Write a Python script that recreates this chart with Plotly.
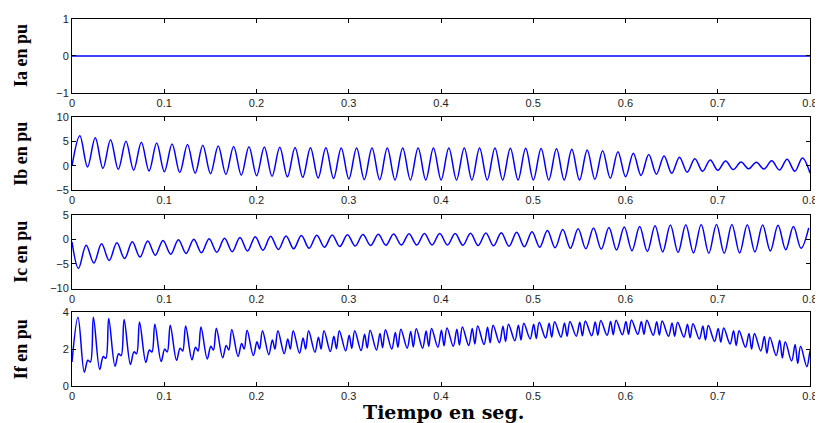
import plotly.graph_objects as go
from plotly.subplots import make_subplots

# ---- time base: start of each 60 Hz cycle (s) ----
cycle_t = [0, 0.0167, 0.0333, 0.05, 0.0667, 0.0833, 0.1, 0.1167, 0.1333, 0.15, 0.1667, 0.1833,
           0.2, 0.2167, 0.2333, 0.25, 0.2667, 0.2833, 0.3, 0.3167, 0.3333, 0.35, 0.3667, 0.3833,
           0.4, 0.4167, 0.4333, 0.45, 0.4667, 0.4833, 0.5, 0.5167, 0.5333, 0.55, 0.5667, 0.5833,
           0.6, 0.6167, 0.6333, 0.65, 0.6667, 0.6833, 0.7, 0.7167, 0.7333, 0.75, 0.7667, 0.7833]

# ---- Ia (pu) ----
Ia_t = [0, 0.8]
Ia = [0, 0]

# ---- Ib (pu): peak / trough per cycle ----
Ib_start = 0.0
Ib_peak = [6.2, 5.8, 5.4, 5.1, 4.9, 4.7, 4.5, 4.4, 4.25, 4.1, 4.0, 3.95,
           3.9, 3.85, 3.8, 3.75, 3.75, 3.7, 3.7, 3.7, 3.7, 3.7, 3.7, 3.7,
           3.7, 3.7, 3.7, 3.7, 3.65, 3.65, 3.6, 3.55, 3.45, 3.3, 3.15, 2.9,
           2.6, 2.35, 2.05, 1.8, 1.5, 1.2, 1.0, 0.8, 0.75, 1.05, 1.35, 1.65]
Ib_trough = [-0.2, -0.5, -0.7, -0.9, -1.05, -1.2, -1.35, -1.5, -1.6, -1.75, -1.9, -2.0,
             -2.15, -2.25, -2.35, -2.5, -2.6, -2.7, -2.8, -2.85, -2.9, -2.9, -2.9, -2.9,
             -2.9, -2.9, -2.9, -2.9, -2.9, -2.9, -2.9, -2.9, -2.9, -2.75, -2.55, -2.25,
             -1.95, -1.7, -1.5, -1.3, -1.1, -0.9, -0.75, -0.6, -0.65, -0.85, -1.1, -1.5]

# ---- Ic (pu): trough / peak per cycle ----
Ic_start = -0.5
Ic_trough = [-5.9, -4.8, -4.3, -3.9, -3.6, -3.2, -3.0, -2.85, -2.7, -2.6, -2.5, -2.35,
             -2.2, -2.05, -1.9, -1.8, -1.6, -1.45, -1.35, -1.25, -1.2, -1.15, -1.15, -1.15,
             -1.15, -1.2, -1.25, -1.3, -1.4, -1.5, -1.6, -1.7, -1.8, -1.9, -2.0, -2.15,
             -2.3, -2.45, -2.55, -2.65, -2.75, -2.8, -2.8, -2.75, -2.55, -2.35, -2.1, -1.8]
Ic_peak = [-1.2, -0.9, -0.7, -0.5, -0.35, -0.2, -0.05, 0.05, 0.15, 0.25, 0.4, 0.55,
           0.65, 0.7, 0.8, 0.85, 0.9, 0.95, 1.0, 1.05, 1.1, 1.15, 1.2, 1.2,
           1.2, 1.25, 1.3, 1.35, 1.45, 1.55, 1.8, 2.0, 2.15, 2.3, 2.4, 2.5,
           2.6, 2.75, 2.9, 3.0, 3.05, 3.05, 3.05, 3.0, 2.9, 2.85, 2.6, 2.35]

# ---- If (pu): main peak, trough, secondary peak, dip per cycle ----
If_start = 1.3
If_P1 = [3.73, 3.73, 3.66, 3.6, 3.47, 3.35, 3.3, 3.25, 3.2, 3.13, 3.07, 3.02,
         3.0, 3.0, 3.0, 3.0, 3.0, 3.0, 3.0, 3.02, 3.05, 3.08, 3.1, 3.12,
         3.15, 3.2, 3.25, 3.3, 3.35, 3.4, 3.45, 3.48, 3.5, 3.52, 3.55, 3.57,
         3.58, 3.57, 3.52, 3.45, 3.38, 3.28, 3.15, 3.0, 2.85, 2.65, 2.4, 2.15]
If_T1 = [0.75, 0.9, 1.07, 1.17, 1.28, 1.33, 1.39, 1.42, 1.46, 1.53, 1.6, 1.65,
         1.7, 1.75, 1.78, 1.83, 1.87, 1.9, 1.92, 1.95, 2.0, 2.05, 2.05, 2.1,
         2.15, 2.2, 2.25, 2.35, 2.45, 2.55, 2.6, 2.65, 2.7, 2.72, 2.75, 2.78,
         2.8, 2.75, 2.7, 2.65, 2.55, 2.42, 2.28, 2.1, 1.9, 1.65, 1.35, 1.05]
If_P2 = [1.4, 1.6, 1.75, 1.85, 1.95, 2.0, 2.05, 2.1, 2.15, 2.2, 2.3, 2.4,
         2.5, 2.55, 2.6, 2.65, 2.7, 2.75, 2.8, 2.85, 2.9, 2.95, 2.98, 3.02,
         3.08, 3.12, 3.18, 3.24, 3.3, 3.35, 3.4, 3.42, 3.45, 3.47, 3.5, 3.5,
         3.5, 3.48, 3.42, 3.35, 3.25, 3.12, 3.0, 2.85, 2.68, 2.48, 2.25, 1.95]
If_T2 = [1.3, 1.5, 1.65, 1.75, 1.85, 1.85, 1.9, 1.9, 1.95, 1.95, 2.0, 2.0,
         2.0, 2.0, 2.0, 2.0, 2.02, 2.04, 2.06, 2.08, 2.1, 2.12, 2.15, 2.18,
         2.22, 2.28, 2.35, 2.42, 2.5, 2.58, 2.65, 2.7, 2.72, 2.75, 2.78, 2.8,
         2.8, 2.76, 2.7, 2.62, 2.5, 2.38, 2.2, 2.0, 1.78, 1.52, 1.22, 0.95]

x_ticks = [0, 0.1, 0.2, 0.3, 0.4, 0.5, 0.6, 0.7, 0.8]
y_titles = ["Ia en pu", "Ib en pu", "Ic en pu", "If en pu"]
y_ranges = [[-1, 1], [-5, 10], [-10, 5], [0, 4]]
y_dticks = [1, 5, 5, 2]
x_title = "Tiempo en seg."

T = 1 / 60.0


def build(start, phases, series):
    xs, ys = [0.0], [start]
    for k, t0 in enumerate(cycle_t):
        for ph, s in zip(phases, series):
            xs.append(t0 + ph * T)
            ys.append(s[k])
    return xs, ys


Ib_x, Ib_y = build(Ib_start, [0.51, 1.01], [Ib_peak, Ib_trough])
Ic_x, Ic_y = build(Ic_start, [0.42, 0.92], [Ic_trough, Ic_peak])
If_x, If_y = build(If_start, [0.39, 0.8, 1.03, 1.2], [If_P1, If_T1, If_P2, If_T2])

fig = make_subplots(rows=4, cols=1)
line = dict(color="#0000ff", width=1.5)
fig.add_trace(go.Scatter(x=Ia_t, y=Ia, mode="lines", line=line), row=1, col=1)
fig.add_trace(go.Scatter(x=Ib_x, y=Ib_y, mode="lines", line=dict(line, shape="spline")), row=2, col=1)
fig.add_trace(go.Scatter(x=Ic_x, y=Ic_y, mode="lines", line=dict(line, shape="spline")), row=3, col=1)
fig.add_trace(go.Scatter(x=If_x, y=If_y, mode="lines", line=dict(line, shape="spline")), row=4, col=1)

domains = [[0.799, 1.0], [0.5335, 0.732], [0.2654, 0.4665], [0.0, 0.201]]
tickfont = dict(family="Liberation Sans, Arial, sans-serif", size=11, color="#222")
for i in range(4):
    fig.update_xaxes(row=i + 1, col=1, range=[0, 0.8], tickvals=x_ticks,
                     ticktext=[("%g" % v) for v in x_ticks],
                     showline=True, linecolor="black", linewidth=1, mirror="allticks",
                     ticks="inside", ticklen=4, tickcolor="black", showgrid=False,
                     zeroline=False, tickfont=tickfont)
    fig.update_yaxes(row=i + 1, col=1, range=y_ranges[i], dtick=y_dticks[i], domain=domains[i],
                     showline=True, linecolor="black", linewidth=1, mirror="allticks",
                     ticks="inside", ticklen=4, tickcolor="black", showgrid=False,
                     zeroline=False, tickfont=tickfont)
    mid = (domains[i][0] + domains[i][1]) / 2
    fig.add_annotation(text="<b>%s</b>" % y_titles[i], xref="paper", yref="paper",
                       x=-0.069, y=mid, textangle=-90, showarrow=False,
                       xanchor="center", yanchor="middle",
                       font=dict(family="Liberation Serif, Times New Roman, serif", size=18, color="black"))

fig.add_annotation(text="<b>%s</b>" % x_title, xref="paper", yref="paper",
                   x=0.503, y=-0.07, showarrow=False, xanchor="center", yanchor="middle",
                   font=dict(family="DejaVu Serif, serif", size=19, color="black"))

fig.update_layout(width=815, height=415, showlegend=False,
                  margin=dict(l=64, r=9, t=5, b=37),
                  plot_bgcolor="white", paper_bgcolor="white")

fig.write_html("out.html")
